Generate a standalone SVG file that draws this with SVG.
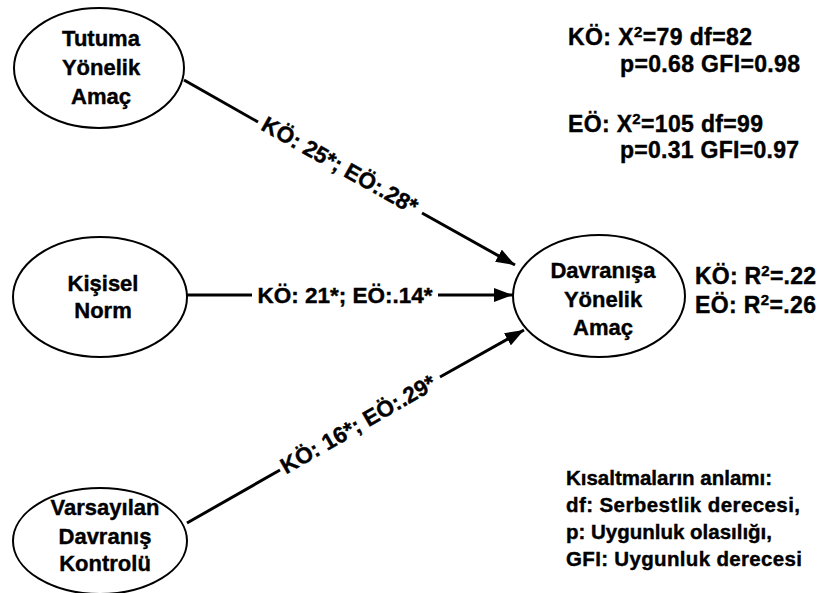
<svg xmlns="http://www.w3.org/2000/svg" width="820" height="593" viewBox="0 0 820 593">
<defs>
<marker id="arr" markerUnits="userSpaceOnUse" markerWidth="20" markerHeight="14" refX="19" refY="7" orient="auto">
<path d="M0,0 L19,7 L0,14 Z" fill="#000"/>
</marker>
<style>
.node ellipse{fill:#fff;stroke:#000;stroke-width:2}
text{font-family:"Liberation Sans",Arial,Helvetica,sans-serif;font-weight:bold;fill:#000;stroke:#000;stroke-width:0.4}
.nt{font-size:22px;text-anchor:middle}
.lbl{font-size:22.5px;text-anchor:middle}
.info{font-size:23px}
.leg{font-size:20.5px}
.edge{stroke:#000;stroke-width:3;fill:none}
.sup{font-size:15px}
</style>
</defs>
<rect width="820" height="593" fill="#fff"/>
<g id="connectors">
<line class="edge" x1="184" y1="80" x2="258" y2="122"/>
<line class="edge" x1="422" y1="213" x2="515" y2="265" marker-end="url(#arr)"/>
<line class="edge" x1="187" y1="295" x2="252" y2="295"/>
<line class="edge" x1="438" y1="295" x2="513" y2="295" marker-end="url(#arr)"/>
<line class="edge" x1="187" y1="523" x2="280" y2="470"/>
<line class="edge" x1="440" y1="377" x2="524" y2="330" marker-end="url(#arr)"/>
<text class="lbl" x="340" y="173" transform="rotate(29.3 340 165)">KÖ: 25*; EÖ:.28*</text>
<text class="lbl" x="345" y="303">KÖ: 21*; EÖ:.14*</text>
<text class="lbl" x="358" y="432" transform="rotate(-29.9 358 424)">KÖ: 16*; EÖ:.29*</text>
</g>
<g id="tutuma" class="node">
<ellipse cx="99" cy="68" rx="85" ry="60"/>
<text class="nt" x="101" y="46">Tutuma</text>
<text class="nt" x="101" y="75">Yönelik</text>
<text class="nt" x="101" y="104">Amaç</text>
</g>
<g id="kisisel" class="node">
<ellipse cx="100" cy="297" rx="87" ry="60"/>
<text class="nt" x="103" y="291">Kişisel</text>
<text class="nt" x="103" y="318">Norm</text>
</g>
<g id="varsayilan" class="node">
<ellipse cx="100" cy="541" rx="87" ry="53"/>
<text class="nt" x="105" y="515">Varsayılan</text>
<text class="nt" x="105" y="544">Davranış</text>
<text class="nt" x="105" y="571">Kontrolü</text>
</g>
<g id="davranisa" class="node">
<ellipse cx="599" cy="296" rx="86" ry="61"/>
<text class="nt" x="603" y="278">Davranışa</text>
<text class="nt" x="603" y="307">Yönelik</text>
<text class="nt" x="603" y="335">Amaç</text>
</g>
<g id="fit">
<text class="info" x="568" y="45" textLength="184">KÖ: X<tspan class="sup" dy="-8">2</tspan><tspan dy="8">=79 df=82</tspan></text>
<text class="info" x="620" y="72" textLength="180">p=0.68 GFI=0.98</text>
<text class="info" x="568" y="132" textLength="195">EÖ: X<tspan class="sup" dy="-8">2</tspan><tspan dy="8">=105 df=99</tspan></text>
<text class="info" x="620" y="158" textLength="179">p=0.31 GFI=0.97</text>
</g>
<g id="r2">
<text class="info" x="695" y="284" textLength="121">KÖ: R<tspan class="sup" dy="-8">2</tspan><tspan dy="8">=.22</tspan></text>
<text class="info" x="695" y="313" textLength="121">EÖ: R<tspan class="sup" dy="-8">2</tspan><tspan dy="8">=.26</tspan></text>
</g>
<g id="legend">
<text class="leg" x="566" y="485" textLength="206">Kısaltmaların anlamı:</text>
<text class="leg" x="566" y="512" textLength="234">df: Serbestlik derecesi,</text>
<text class="leg" x="566" y="539" textLength="206">p: Uygunluk olasılığı,</text>
<text class="leg" x="566" y="566" textLength="236">GFI: Uygunluk derecesi</text>
</g>
</svg>
